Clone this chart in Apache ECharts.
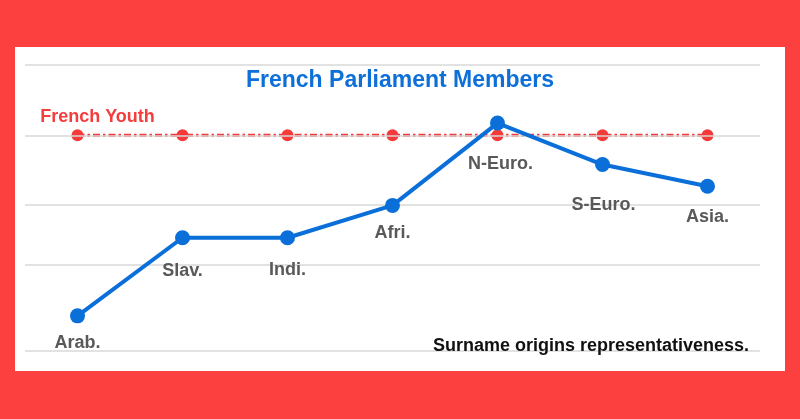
<!DOCTYPE html>
<html>
<head>
<meta charset="utf-8">
<script src="https://cdn.jsdelivr.net/npm/echarts@6/dist/echarts.min.js"></script>
<style>
html,body{margin:0;padding:0;background:#fc4040;}
#c{width:800px;height:419px;}
</style>
</head>
<body>
<div id="c"></div>
<script>
var categories = ['Arab.', 'Slav.', 'Indi.', 'Afri.', 'N-Euro.', 'S-Euro.', 'Asia.'];
var parliamentValues = [12.3, 39.6, 39.6, 50.9, 79.7, 65.2, 57.6];
var youthValues = [75.4, 75.4, 75.4, 75.4, 75.4, 75.4, 75.4];
var gridValues = [100, 75.4, 51.2, 30.1, 0];
var titleText = 'French Parliament Members';
var youthText = 'French Youth';
var noteText = 'Surname origins representativeness.';

var labelOffsets = [[0, 27], [0, 33], [0, 32], [0, 28], [3, 41], [1, 41], [0, 31]];
var FONT = '"Liberation Sans", Arial, Helvetica, sans-serif';

var chart = echarts.init(document.getElementById('c'), null, {renderer: 'canvas'});

var parliamentData = parliamentValues.map(function (v, i) {
  return {
    value: v,
    label: {
      show: true,
      position: 'inside',
      offset: labelOffsets[i],
      formatter: categories[i],
      color: '#595959',
      fontSize: 18,
      fontWeight: 'bold',
      fontFamily: FONT
    }
  };
});

var youthData = youthValues.map(function (v, i) {
  if (i === 0) {
    return {
      value: v,
      label: {
        show: true,
        position: 'inside',
        offset: [20, -18],
        formatter: youthText,
        color: '#f43e3e',
        fontSize: 18,
        fontWeight: 'bold',
        fontFamily: FONT
      }
    };
  }
  return v;
});

var option = {
  backgroundColor: '#fc4040',
  animation: false,
  graphic: [{
    type: 'rect',
    z: -10,
    shape: {x: 15, y: 47, width: 770, height: 324},
    style: {fill: '#ffffff'}
  }],
  title: [{
    text: titleText,
    left: 'center',
    top: 64,
    textStyle: {color: '#0d70d8', fontSize: 23, fontWeight: 'bold', fontFamily: FONT}
  }, {
    text: noteText,
    right: 46,
    top: 332,
    textStyle: {color: '#111111', fontSize: 18, fontWeight: 'bold', fontFamily: FONT}
  }],
  grid: {left: 25, right: 40, top: 65, bottom: 68},
  xAxis: {
    type: 'category',
    data: categories,
    boundaryGap: true,
    axisLine: {show: false},
    axisTick: {show: false},
    axisLabel: {show: false},
    splitLine: {show: false}
  },
  yAxis: {
    type: 'value',
    min: 0,
    max: 100,
    axisLine: {show: false},
    axisTick: {show: false},
    axisLabel: {show: false},
    splitLine: {show: false}
  },
  series: [{
    type: 'line',
    name: 'grid',
    data: [],
    silent: true,
    z: 1,
    markLine: {
      silent: true,
      symbol: 'none',
      label: {show: false},
      lineStyle: {color: '#d9d9d9', width: 1.5, type: 'solid'},
      data: gridValues.map(function (v) { return {yAxis: v}; })
    }
  }, {
    type: 'line',
    name: youthText,
    data: youthData,
    z: 3,
    symbol: 'circle',
    symbolSize: 12,
    itemStyle: {color: '#f53a3a'},
    lineStyle: {color: '#f53a3a', width: 3.2, type: [7, 3, 2.5, 3]}
  }, {
    type: 'line',
    name: titleText,
    data: parliamentData,
    z: 5,
    symbol: 'circle',
    symbolSize: 15,
    itemStyle: {color: '#0a6fd8'},
    lineStyle: {color: '#0a6fd8', width: 4}
  }]
};
chart.setOption(option);
</script>
</body>
</html>
